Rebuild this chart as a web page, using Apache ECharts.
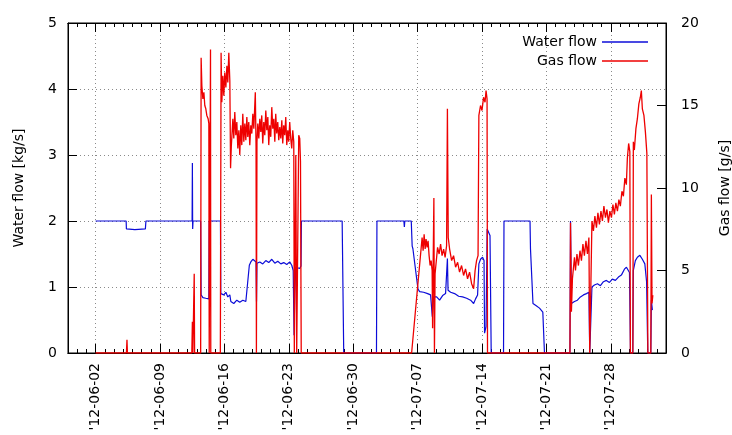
<!DOCTYPE html>
<html>
<head>
<meta charset="utf-8">
<script src="https://cdn.jsdelivr.net/npm/echarts@6/dist/echarts.min.js"></script>
<style>
  html, body { margin: 0; padding: 0; background: #fff; }
  #chart { width: 732px; height: 435px; }
</style>
</head>
<body>
<div id="chart"></div>
<script>
// x values are days counted from 2012-05-30 00:00
const startDay = Date.UTC(2012, 4, 30);
const dayMin = 0;
const dayMax = 65;
const weekTicks = [3, 10, 17, 24, 31, 38, 45, 52, 59];

// [day, kg/s]
const waterFlow = [
  [3.0, 2.0], [6.32, 2.0], [6.35, 1.88], [7.27, 1.87], [8.41, 1.88], [8.47, 2.0],
  [13.49, 2.0], [13.52, 2.88], [13.55, 1.88], [13.59, 2.0], [14.42, 2.0],
  [14.47, 0.88], [14.66, 0.84], [14.98, 0.83], [15.31, 0.82], [15.35, 2.0],
  [16.57, 2.0], [16.61, 0.9], [16.94, 0.88], [17.16, 0.92], [17.37, 0.85], [17.59, 0.88],
  [17.7, 0.78], [18.02, 0.75], [18.35, 0.8], [18.67, 0.77], [19.0, 0.8], [19.33, 0.78], [19.54, 0.8],
  [19.71, 1.33], [19.87, 1.38], [20.09, 1.42], [20.3, 1.45], [20.44, 1.38], [20.49, 0.78],
  [20.54, 1.36], [20.85, 1.38], [21.17, 1.35], [21.5, 1.4], [21.82, 1.37], [22.15, 1.42],
  [22.48, 1.36], [22.8, 1.39], [23.13, 1.35], [23.45, 1.37], [23.78, 1.34], [24.1, 1.38],
  [24.32, 1.33], [24.48, 1.25], [24.57, 0.27], [24.65, 0.9], [24.76, 1.3], [24.97, 1.32],
  [25.19, 1.28], [25.33, 1.32], [25.37, 2.0], [29.8, 2.0], [29.97, 0],
  [33.53, 0], [33.58, 2.0], [36.51, 2.0], [36.56, 1.91], [36.61, 2.0], [37.31, 2.0],
  [37.41, 1.62], [37.49, 1.58], [38.04, 0.97], [38.22, 0.93], [38.65, 0.92], [39.09, 0.9],
  [39.41, 0.88], [39.6, 0.55], [39.74, 0.85], [40.07, 0.85], [40.39, 0.8], [40.72, 0.87],
  [41.04, 0.9], [41.21, 0.92], [41.24, 1.43], [41.31, 0.95], [41.59, 0.92], [42.02, 0.9],
  [42.46, 0.86], [42.89, 0.85], [43.33, 0.83], [43.76, 0.8], [44.09, 0.75], [44.3, 0.82],
  [44.52, 0.88], [44.66, 1.35], [44.84, 1.42], [45.06, 1.45], [45.22, 1.4], [45.28, 0.3],
  [45.44, 0.4], [45.56, 1.88], [45.71, 1.85], [45.87, 1.78], [46.0, 0],
  [47.34, 0], [47.39, 2.0], [50.22, 2.0], [50.27, 1.58], [50.54, 0.75], [50.86, 0.72],
  [51.25, 0.68], [51.61, 0.62], [51.79, 0],
  [54.56, 0], [54.62, 2.0], [54.72, 0.75], [55.05, 0.78], [55.37, 0.8], [55.7, 0.85],
  [56.03, 0.88], [56.35, 0.9], [56.62, 0.92], [56.71, 0], [56.89, 0], [56.95, 1.0],
  [57.22, 1.03], [57.55, 1.05], [57.87, 1.02], [58.2, 1.08], [58.52, 1.1], [58.85, 1.07],
  [59.17, 1.12], [59.5, 1.1], [59.83, 1.15], [60.15, 1.18], [60.48, 1.27], [60.7, 1.3],
  [61.03, 1.22], [61.14, 0], [61.39, 0], [61.45, 1.25], [61.67, 1.4], [61.89, 1.45],
  [62.16, 1.48], [62.43, 1.42], [62.7, 1.35], [62.89, 1.08], [63.02, 0], [63.35, 0],
  [63.41, 0.8], [63.52, 0.65]
];

// [day, g/s]
const gasFlow = [
  [3.0, 0], [6.35, 0], [6.41, 0.8], [6.46, 0], [13.46, 0], [13.52, 1.9], [13.57, 0],
  [13.68, 0], [13.72, 4.8], [13.76, 0], [14.42, 0],
  [14.47, 17.9], [14.55, 16.2], [14.66, 15.4], [14.77, 15.8], [14.87, 15.0], [14.98, 14.8],
  [15.09, 14.4], [15.23, 14.2], [15.31, 13.9], [15.35, 0], [15.46, 0], [15.49, 18.4], [15.52, 0],
  [16.56, 0], [16.64, 18.2], [16.72, 15.2], [16.83, 16.8], [16.94, 15.6], [17.04, 17.0],
  [17.16, 16.1], [17.27, 17.4], [17.37, 16.4], [17.48, 18.2], [17.59, 16.5], [17.67, 11.2],
  [17.75, 12.5], [17.92, 14.2], [18.02, 13.0], [18.13, 14.6], [18.24, 13.2], [18.35, 14.0],
  [18.46, 12.4], [18.57, 13.5], [18.67, 12.0], [18.78, 13.8], [18.89, 12.6], [19.0, 14.5],
  [19.11, 12.8], [19.22, 13.9], [19.33, 12.9], [19.44, 14.3], [19.54, 13.1], [19.65, 14.0],
  [19.76, 12.6], [19.87, 13.8], [19.98, 13.3], [20.09, 14.5], [20.2, 13.6], [20.36, 15.8],
  [20.44, 12.5], [20.48, 0], [20.54, 12.8], [20.63, 13.9], [20.74, 13.0], [20.85, 14.2],
  [20.96, 13.4], [21.06, 14.4], [21.17, 12.7], [21.28, 14.0], [21.39, 13.2], [21.5, 14.7],
  [21.61, 13.5], [21.72, 14.3], [21.82, 12.6], [21.93, 13.8], [22.04, 13.1], [22.15, 14.9],
  [22.26, 13.6], [22.37, 14.2], [22.48, 12.8], [22.58, 14.5], [22.69, 13.3], [22.8, 14.0],
  [22.91, 12.9], [23.02, 13.7], [23.13, 13.0], [23.24, 14.1], [23.34, 12.7], [23.45, 13.8],
  [23.56, 13.2], [23.67, 14.3], [23.78, 12.6], [23.89, 13.5], [23.99, 12.8], [24.1, 14.0],
  [24.21, 13.0], [24.32, 12.4], [24.43, 13.5], [24.54, 12.8], [24.6, 0], [24.7, 0],
  [24.76, 12.0], [24.86, 0], [25.03, 0], [25.08, 13.2], [25.19, 13.0], [25.27, 11.6], [25.35, 0],
  [37.35, 0], [38.49, 7.0], [38.6, 6.2], [38.71, 7.2], [38.82, 6.3], [38.92, 6.9], [39.03, 6.4],
  [39.14, 6.8], [39.25, 5.9], [39.36, 5.3], [39.47, 5.6], [39.58, 5.0], [39.63, 1.5],
  [39.69, 5.4], [39.77, 9.4], [39.83, 0], [39.9, 4.8], [40.07, 5.8], [40.17, 6.4], [40.34, 6.0],
  [40.5, 6.6], [40.66, 5.9], [40.83, 6.3], [40.99, 5.8], [41.15, 6.5], [41.24, 14.8], [41.33, 7.0],
  [41.48, 6.3], [41.7, 5.6], [41.91, 5.9], [42.13, 5.2], [42.35, 5.5], [42.56, 4.9], [42.78, 5.3],
  [43.0, 4.7], [43.21, 5.1], [43.43, 4.5], [43.65, 4.9], [43.87, 4.2], [44.09, 3.9], [44.25, 5.0],
  [44.41, 5.6], [44.57, 5.9], [44.66, 14.4], [44.84, 15.0], [45.0, 14.7], [45.17, 15.5],
  [45.33, 15.2], [45.44, 15.9], [45.55, 15.4], [45.6, 0],
  [54.56, 0], [54.62, 7.9], [54.72, 2.5], [54.83, 4.5], [55.05, 5.8], [55.16, 5.0], [55.32, 6.0],
  [55.48, 5.3], [55.65, 6.2], [55.81, 5.6], [55.97, 6.6], [56.13, 5.9], [56.3, 6.8], [56.46, 6.0],
  [56.62, 7.0], [56.71, 0], [56.89, 0], [56.95, 8.0], [57.11, 7.4], [57.27, 8.3], [57.44, 7.6],
  [57.6, 8.5], [57.76, 7.8], [57.93, 8.6], [58.09, 8.0], [58.25, 8.9], [58.42, 8.2], [58.58, 8.7],
  [58.74, 7.9], [58.9, 8.6], [59.07, 8.2], [59.23, 9.0], [59.39, 8.4], [59.55, 9.1], [59.72, 8.6],
  [59.88, 9.3], [60.04, 8.9], [60.21, 9.8], [60.37, 9.5], [60.53, 10.6], [60.69, 10.2],
  [60.8, 11.8], [60.94, 12.7], [61.07, 12.2], [61.13, 0], [61.4, 0], [61.45, 12.8], [61.56, 12.3],
  [61.73, 13.6], [61.89, 14.2], [62.05, 15.1], [62.21, 15.5], [62.32, 15.9], [62.43, 14.8],
  [62.6, 14.4], [62.76, 13.4], [62.92, 12.1], [63.03, 0], [63.35, 0], [63.41, 9.6],
  [63.48, 3.0], [63.57, 3.5]
];

function dayLabel(d) {
  const t = new Date(startDay + d * 86400000);
  const mm = String(t.getUTCMonth() + 1).padStart(2, '0');
  const dd = String(t.getUTCDate()).padStart(2, '0');
  return "'" + String(t.getUTCFullYear()).slice(2) + '-' + mm + '-' + dd;
}

const font = 'DejaVu Sans';
const black = '#000';
const gridLine = { show: true, lineStyle: { color: '#8a8a8a', type: [1, 3], width: 1 } };

// bottom weekly axis: labels, long ticks and the vertical grid
const bottomWeek = {
  type: 'value', position: 'bottom', min: dayMin, max: dayMax, interval: 7,
  axisLine: { show: true, onZero: false, lineStyle: { color: black } },
  axisTick: { show: true, inside: true, length: 9, customValues: weekTicks, lineStyle: { color: black } },
  axisLabel: {
    show: true, customValues: weekTicks, rotate: 90, formatter: dayLabel,
    fontFamily: font, fontSize: 14, color: black, margin: 10
  },
  splitLine: gridLine
};

// plain tick-only axes (daily ticks, and the mirrored ticks on top)
function tickAxis(position, daily) {
  return {
    type: 'value', position: position, min: dayMin, max: dayMax, interval: daily ? 1 : 7,
    axisLine: { show: true, onZero: false, lineStyle: { color: black } },
    axisTick: daily
      ? { show: true, inside: true, length: 4, lineStyle: { color: black } }
      : { show: true, inside: true, length: 9, customValues: weekTicks, lineStyle: { color: black } },
    axisLabel: { show: false, customValues: weekTicks },
    splitLine: { show: false }
  };
}

const chart = echarts.init(document.getElementById('chart'));
chart.setOption({
  animation: false,
  grid: {
    left: 68, right: 66, top: 23, bottom: 82,
    outerBoundsMode: 'none',
    show: true, borderColor: black
  },
  legend: {
    data: ['Water flow', 'Gas flow'],
    orient: 'vertical',
    right: 84,
    top: 35,
    padding: 0,
    align: 'right',
    icon: 'rect',
    itemWidth: 46,
    itemHeight: 1.5,
    itemGap: 5,
    textStyle: { fontFamily: font, fontSize: 14, color: black }
  },
  xAxis: [
    bottomWeek,
    tickAxis('bottom', true),
    tickAxis('top', false),
    tickAxis('top', true)
  ],
  yAxis: [
    {
      type: 'value', position: 'left', min: 0, max: 5, interval: 1,
      name: 'Water flow [kg/s]', nameLocation: 'middle', nameGap: 42, nameRotate: 90,
      nameTextStyle: { fontFamily: font, fontSize: 14, color: black },
      axisLine: { show: true, onZero: false, lineStyle: { color: black } },
      axisTick: { show: true, inside: true, length: 9, lineStyle: { color: black } },
      axisLabel: { fontFamily: font, fontSize: 14, color: black, margin: 11 },
      splitLine: gridLine
    },
    {
      type: 'value', position: 'right', min: 0, max: 20, interval: 5,
      name: 'Gas flow [g/s]', nameLocation: 'middle', nameGap: 52, nameRotate: 90,
      nameTextStyle: { fontFamily: font, fontSize: 14, color: black },
      axisLine: { show: true, onZero: false, lineStyle: { color: black } },
      axisTick: { show: true, inside: true, length: 9, lineStyle: { color: black } },
      axisLabel: { fontFamily: font, fontSize: 14, color: black, margin: 15 },
      splitLine: { show: false }
    }
  ],
  series: [
    {
      name: 'Water flow', type: 'line', yAxisIndex: 0,
      data: waterFlow, symbol: 'none',
      lineStyle: { color: '#0c0cd8', width: 1.2 }, itemStyle: { color: '#0c0cd8' }
    },
    {
      name: 'Gas flow', type: 'line', yAxisIndex: 1,
      data: gasFlow, symbol: 'none',
      lineStyle: { color: '#ee0000', width: 1.3 }, itemStyle: { color: '#ee0000' }
    }
  ]
});
</script>
</body>
</html>
